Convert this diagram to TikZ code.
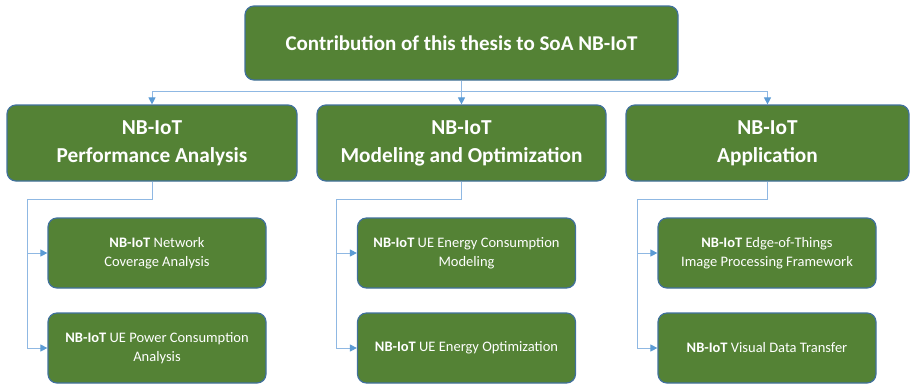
\documentclass[tikz,border=0pt]{standalone}
\usepackage{fontspec}
\setmainfont{Carlito}
\usetikzlibrary{arrows.meta}

\definecolor{boxgreen}{HTML}{548235}
\definecolor{boxblue}{HTML}{41719C}
\definecolor{linkblue}{HTML}{8FB8E3}
\definecolor{tipblue}{HTML}{5B9BD5}

\tikzset{
  mainbox/.style={draw=boxblue, line width=1.2pt, fill=boxgreen, rounded corners=9pt,
    text=white, align=center, inner sep=0pt},
  topbox/.style={mainbox, minimum width=433, minimum height=74,
    font=\fontsize{21}{25}\selectfont\bfseries},
  areabox/.style={mainbox, minimum height=76,
    font=\fontsize{21.3}{28}\selectfont\bfseries},
  subbox/.style={mainbox, minimum width=218, minimum height=70,
    font=\fontsize{14.5}{19}\selectfont},
  conn/.style={draw=linkblue, line width=1pt,
    -{Triangle[length=7pt,width=7pt,color=tipblue]}}
}

\begin{document}
\begin{tikzpicture}[x=1pt,y=-1pt]
\useasboundingbox (0,0) rectangle (910,384);

% Top box
\node[topbox] (top) at (461.5,43) {Contribution of this thesis to SoA NB-IoT};

% Research areas
\node[areabox, minimum width=290] (perf) at (152,143) {NB-IoT\\Performance Analysis};
\node[areabox, minimum width=289] (model) at (461.5,143) {NB-IoT\\Modeling and Optimization};
\node[areabox, minimum width=283] (app) at (767.5,143) {NB-IoT\\Application};

% Contributions
\node[subbox] (cov) at (157,253) {\textbf{NB-IoT} Network\\Coverage Analysis};
\node[subbox] (pow) at (157,348) {\textbf{NB-IoT} UE Power Consumption\\Analysis};
\node[subbox] (ecm) at (466.5,253) {\textbf{NB-IoT} UE Energy Consumption\\Modeling};
\node[subbox] (eopt) at (466.5,348) {\textbf{NB-IoT} UE Energy Optimization};
\node[subbox] (eot) at (767,253) {\textbf{NB-IoT} Edge-of-Things\\Image Processing Framework};
\node[subbox] (vdt) at (767,348) {\textbf{NB-IoT} Visual Data Transfer};

% Links from the top box
\coordinate (bus) at (461.5,91);
\draw[conn] (top.south) -- (model.north);
\draw[conn] (bus) -| (perf.north);
\draw[conn] (bus) -| (app.north);

% Links to the contributions
\coordinate (pa) at (27,199);
\coordinate (ma) at (336,199);
\coordinate (aa) at (637,199);
\draw[conn] (perf.south) |- (pa) |- (cov.west);
\draw[conn] (pa) |- (pow.west);
\draw[conn] (model.south) |- (ma) |- (ecm.west);
\draw[conn] (ma) |- (eopt.west);
\draw[conn] (app.south) |- (aa) |- (eot.west);
\draw[conn] (aa) |- (vdt.west);

\end{tikzpicture}
\end{document}
